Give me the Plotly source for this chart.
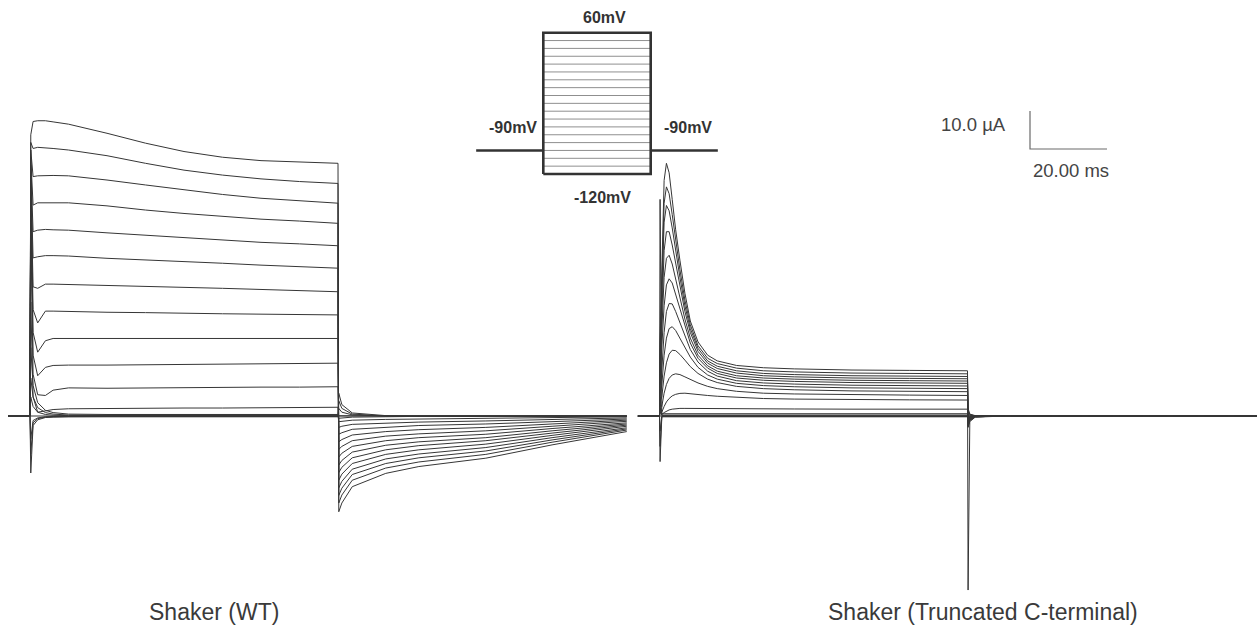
import plotly.graph_objects as go

# ---------------- data ----------------
# Voltage steps of the protocol (mV), sweep order: +60 ... -120
STEP_MV = [60, 50, 40, 30, 20, 10, 0, -10, -20, -30, -40, -50, -60, -70, -80, -90, -100, -110, -120]
HOLD_MV = -90
PROTO_T = [-50, 0, 80, 130]          # ms (schematic: pre-hold, step on, step off, post-hold)

# Shaker WT: time (ms from step onset) and current (uA) for each sweep
WT_T = [-5.7, 0, 0.2, 0.8, 2, 4, 6, 10, 20, 30, 40, 50, 60, 70, 80,
        80.2, 81, 83.7, 92.4, 101, 118.4, 135.6, 155]
WT_I = [
    [0, 0, 74, 77.5, 77.7, 77.7, 77.4, 76.8, 74.4, 71.8, 69.6, 68.1, 67.2, 66.8, 66.5, -25.2, -22.9, -18.6, -15.1, -13.3, -11.1, -7.6, -4.1],
    [0, 0, 72, 70.4, 70.7, 70.6, 70.4, 70.0, 68.5, 66.5, 64.7, 63.4, 62.4, 61.7, 61.2, -22.9, -20.8, -16.9, -13.7, -12.1, -10.1, -6.9, -3.7],
    [0, 0, 70, 63.0, 63.2, 63.3, 63.3, 63.2, 62.1, 60.8, 59.5, 58.3, 57.3, 56.6, 56.0, -20.9, -19.0, -15.4, -12.5, -11.0, -9.2, -6.3, -3.4],
    [0, 0, 68, 55.5, 56.1, 56.1, 56.1, 56.1, 55.3, 54.2, 53.3, 52.5, 51.8, 51.3, 50.7, -18.9, -17.2, -14.0, -11.3, -10.0, -8.3, -5.7, -3.1],
    [0, 0, 66, 48.5, 48.9, 49.1, 49.0, 48.9, 48.2, 47.6, 47.0, 46.3, 45.7, 45.3, 44.8, -16.9, -15.3, -12.5, -10.1, -8.9, -7.4, -5.1, -2.7],
    [0, 0, 64, 41.6, 41.9, 42.2, 42.2, 42.1, 41.5, 41.1, 40.6, 40.2, 39.7, 39.3, 38.9, -14.9, -13.5, -11.0, -8.9, -7.8, -6.5, -4.5, -2.4],
    [0, 0, 62, 34.0, 33.6, 34.7, 34.7, 34.6, 34.5, 34.2, 33.9, 33.6, 33.3, 33.0, 32.7, -12.9, -11.7, -9.5, -7.7, -6.8, -5.7, -3.9, -2.1],
    [0, 0, 60, 28.0, 24.5, 27.6, 27.6, 27.5, 27.3, 27.2, 27.0, 26.9, 26.8, 26.7, 26.6, -10.8, -9.8, -8.0, -6.5, -5.7, -4.8, -3.3, -1.8],
    [0, 0, 58, 22.0, 16.8, 19.8, 20.4, 20.4, 20.4, 20.4, 20.4, 20.4, 20.4, 20.4, 20.4, -8.8, -8.0, -6.5, -5.3, -4.7, -3.9, -2.7, -1.4],
    [0, 0, 56, 16.0, 10.6, 12.8, 13.3, 13.4, 13.4, 13.5, 13.6, 13.7, 13.8, 13.8, 13.9, -6.8, -6.2, -5.0, -4.1, -3.6, -3.0, -2.1, -1.1],
    [0, 0, 50, 11.0, 5.6, 5.4, 6.8, 7.4, 7.3, 7.4, 7.5, 7.5, 7.6, 7.6, 7.7, -4.8, -4.4, -3.5, -2.9, -2.5, -2.1, -1.4, -0.8],
    [0, 0, 30, 5.0, 1.0, 1.4, 1.7, 1.9, 2.0, 2.0, 2.1, 2.1, 2.2, 2.2, 2.3, -3.0, -2.7, -2.2, -1.8, -1.6, -1.3, -0.9, -0.5],
    [0, 0, 18, 8.0, 3.5, 1.5, 0.9, 0.5, 0.4, 0.4, 0.4, 0.4, 0.4, 0.4, 0.4, -1.5, -1.4, -1.1, -0.9, -0.8, -0.7, -0.5, -0.2],
    [0, 0, 10, 5.0, 2.2, 0.9, 0.5, 0.25, 0.2, 0.2, 0.2, 0.2, 0.2, 0.2, 0.2, -0.6, -0.5, -0.3, -0.2, -0.1, -0.1, 0, 0],
    [0, 0, 5, 2.5, 1.0, 0.4, 0.2, 0.1, 0.1, 0.1, 0.1, 0.1, 0.1, 0.1, 0.1, 0, 0, 0, 0, 0, 0, 0, 0],
    [0, 0, 0, 0, 0, 0, 0, 0, 0, 0, 0, 0, 0, 0, 0, 0, 0, 0, 0, 0, 0, 0, 0],
    [0, 0, -6, -1.2, -0.5, -0.2, -0.15, -0.1, -0.1, -0.1, -0.1, -0.1, -0.1, -0.1, -0.1, 2.0, 1.0, 0.3, 0, 0, 0, 0, 0],
    [0, 0, -10, -1.8, -0.7, -0.3, -0.2, -0.15, -0.15, -0.15, -0.15, -0.15, -0.15, -0.15, -0.15, 4.0, 2.0, 0.5, 0, 0, 0, 0, 0],
    [0, 0, -15, -2.5, -1.0, -0.4, -0.3, -0.2, -0.2, -0.2, -0.2, -0.2, -0.2, -0.2, -0.2, 6.0, 3.0, 0.8, 0.1, 0, 0, 0, 0],
]

# Shaker (Truncated C-terminal)
TR_T = [-5.6, 0, 0.15, 0.6, 1.2, 1.8, 2.5, 3.3, 4.2, 5.3, 6.6, 8, 10, 12.5, 15, 20, 27, 35, 50, 65, 80,
        80.15, 80.6, 82, 90, 155.3]
TR_I = [
    [0, 0, 20, 40, 62, 66.5, 64, 57, 49, 41, 32.3, 25, 19.5, 16, 14.5, 13.3, 12.7, 12.4, 12.1, 12.0, 11.9, -45.8, -1.5, -0.3, 0, 0],
    [0, 0, 18, 36, 56, 60.3, 58.5, 53, 46, 38.5, 30.5, 24, 18.5, 15.2, 13.8, 12.6, 11.9, 11.6, 11.3, 11.2, 11.1, -3.0, -1.2, -0.2, 0, 0],
    [0, 0, 16, 32, 51, 55.4, 54, 49.5, 43.5, 36.5, 29, 23, 17.8, 14.5, 13.1, 11.9, 11.2, 10.9, 10.6, 10.5, 10.4, -2.8, -1.1, -0.2, 0, 0],
    [0, 0, 14, 27, 43.5, 48.5, 48.5, 45, 40, 34, 27.5, 22, 17, 13.9, 12.5, 11.3, 10.6, 10.3, 10.0, 9.9, 9.8, -2.6, -1.0, -0.2, 0, 0],
    [0, 0, 12, 22, 36.5, 41.5, 42.3, 40, 36, 31, 25.5, 20.5, 16, 13.2, 11.8, 10.6, 10.0, 9.7, 9.4, 9.3, 9.2, -2.4, -0.9, -0.2, 0, 0],
    [0, 0, 10, 17, 29, 34.5, 36.1, 35, 32, 28, 23.5, 19.2, 15.2, 12.6, 11.2, 10.0, 9.4, 9.1, 8.8, 8.7, 8.6, -2.2, -0.8, -0.1, 0, 0],
    [0, 0, 8, 12, 22, 27.5, 29.6, 29.5, 27.5, 24.5, 21, 17.5, 14.2, 11.8, 10.5, 9.3, 8.7, 8.4, 8.1, 8.0, 7.9, -2.0, -0.7, -0.1, 0, 0],
    [0, 0, 6, 8, 16, 20.5, 23, 23.5, 22.5, 20.5, 18, 15.5, 12.8, 10.8, 9.7, 8.6, 8.0, 7.7, 7.4, 7.3, 7.2, -1.8, -0.6, -0.1, 0, 0],
    [0, 0, 4, 5, 10.5, 14, 16.3, 17.3, 17.2, 16.2, 14.7, 13, 11.2, 9.7, 8.8, 7.8, 7.2, 6.9, 6.6, 6.5, 6.4, -1.6, -0.5, -0.1, 0, 0],
    [0, 0, 3, 2.5, 6, 8.3, 9.9, 10.8, 11.1, 10.9, 10.3, 9.6, 8.7, 7.8, 7.2, 6.5, 6.0, 5.8, 5.6, 5.5, 5.4, -1.4, -0.4, 0, 0, 0],
    [0, 0, 2, 1, 2.5, 3.7, 4.6, 5.3, 5.7, 5.95, 6.0, 5.9, 5.7, 5.4, 5.2, 4.9, 4.6, 4.45, 4.3, 4.25, 4.2, -1.2, -0.3, 0, 0, 0],
    [0, 0, 1, 0.4, 0.9, 1.3, 1.6, 1.8, 1.95, 2.0, 2.0, 2.0, 2.0, 1.95, 1.9, 1.9, 1.85, 1.85, 1.8, 1.8, 1.8, -1.0, -0.2, 0, 0, 0],
    [0, 0, 57, 0.6, 0.6, 0.6, 0.6, 0.6, 0.6, 0.6, 0.6, 0.6, 0.6, 0.6, 0.6, 0.6, 0.6, 0.6, 0.6, 0.6, 0.6, -0.6, -0.1, 0, 0, 0],
    [0, 0, 5, 0.25, 0.25, 0.25, 0.25, 0.25, 0.25, 0.25, 0.25, 0.25, 0.25, 0.25, 0.25, 0.25, 0.25, 0.25, 0.25, 0.25, 0.25, -0.3, 0, 0, 0, 0],
    [0, 0, 2, 0.1, 0.1, 0.1, 0.1, 0.1, 0.1, 0.1, 0.1, 0.1, 0.1, 0.1, 0.1, 0.1, 0.1, 0.1, 0.1, 0.1, 0.1, 0, 0, 0, 0, 0],
    [0, 0, 0, 0, 0, 0, 0, 0, 0, 0, 0, 0, 0, 0, 0, 0, 0, 0, 0, 0, 0, 0, 0, 0, 0, 0],
    [0, 0, -4, -0.1, -0.1, -0.1, -0.1, -0.1, -0.1, -0.1, -0.1, -0.1, -0.1, -0.1, -0.1, -0.1, -0.1, -0.1, -0.1, -0.1, -0.1, 1.0, 0.3, 0, 0, 0],
    [0, 0, -8, -0.15, -0.15, -0.15, -0.15, -0.15, -0.15, -0.15, -0.15, -0.15, -0.15, -0.15, -0.15, -0.15, -0.15, -0.15, -0.15, -0.15, -0.15, 1.5, 0.4, 0, 0, 0],
    [0, 0, -12, -0.2, -0.2, -0.2, -0.2, -0.2, -0.2, -0.2, -0.2, -0.2, -0.2, -0.2, -0.2, -0.2, -0.2, -0.2, -0.2, -0.2, -0.2, 2.0, 0.5, 0.1, 0, 0],
]

SCALE_I_UA = 10.0
SCALE_T_MS = 20.0
LABELS = ["Shaker (WT)", "Shaker (Truncated C-terminal)"]

# ---------------- layout constants ----------------
W, H = 1257, 635
PX_PER_MS = 3.85
PX_PER_UA = 3.8
BASE_PY = 416
WT_ONSET = 30 / PX_PER_MS
TR_ONSET = 659.5 / PX_PER_MS
TRACE_COLOR = "#363636"

INSET_PX_PER_MS = 1.3425
INSET_X0_PX = 543.3
INSET_PX_PER_MV = 0.785
INSET_TOP_PY = 32.7

fig = go.Figure()

for sweep in WT_I:
    fig.add_trace(go.Scatter(x=[t + WT_ONSET for t in WT_T], y=sweep, mode="lines",
                             line=dict(color=TRACE_COLOR, width=1), hoverinfo="skip"))
for sweep in TR_I:
    fig.add_trace(go.Scatter(x=[t + TR_ONSET for t in TR_T], y=sweep, mode="lines",
                             line=dict(color=TRACE_COLOR, width=1), hoverinfo="skip"))

# scale bar
sb_x = 1030 / PX_PER_MS
sb_y = (BASE_PY - 149) / PX_PER_UA
fig.add_trace(go.Scatter(x=[sb_x, sb_x, sb_x + SCALE_T_MS], y=[sb_y + SCALE_I_UA, sb_y, sb_y],
                         mode="lines", line=dict(color="#6a6a6a", width=1.2), hoverinfo="skip"))

# protocol inset
for v in STEP_MV[1:-1]:
    fig.add_trace(go.Scatter(x=[PROTO_T[1], PROTO_T[2]], y=[v, v], mode="lines",
                             line=dict(color="#8f8f8f", width=1), xaxis="x2", yaxis="y2", hoverinfo="skip"))
fig.add_trace(go.Scatter(x=[PROTO_T[1], PROTO_T[1], PROTO_T[2], PROTO_T[2], PROTO_T[1]],
                         y=[STEP_MV[-1], STEP_MV[0], STEP_MV[0], STEP_MV[-1], STEP_MV[-1]],
                         mode="lines", line=dict(color="#333333", width=2.6), xaxis="x2", yaxis="y2", hoverinfo="skip"))
fig.add_trace(go.Scatter(x=[PROTO_T[0], PROTO_T[1]], y=[HOLD_MV, HOLD_MV], mode="lines",
                         line=dict(color="#333333", width=2.6), xaxis="x2", yaxis="y2", hoverinfo="skip"))
fig.add_trace(go.Scatter(x=[PROTO_T[2], PROTO_T[3]], y=[HOLD_MV, HOLD_MV], mode="lines",
                         line=dict(color="#333333", width=2.6), xaxis="x2", yaxis="y2", hoverinfo="skip"))

FONT = "Liberation Sans, Arial, sans-serif"

def ann(text, px, py, size, bold=False, xanchor="center", color="#333333"):
    fig.add_annotation(x=px / W, y=1 - py / H, xref="paper", yref="paper",
                       text=f"<b>{text}</b>" if bold else text, showarrow=False,
                       xanchor=xanchor, yanchor="middle",
                       font=dict(family=FONT, size=size, color=color))

ann(f"{STEP_MV[0]}mV", 604.8, 17.2, 16, bold=True)
ann(f"{STEP_MV[-1]}mV", 602.5, 197, 16, bold=True)
ann(f"{HOLD_MV}mV", 512.7, 127.3, 16, bold=True)
ann(f"{HOLD_MV}mV", 687.8, 127.3, 16, bold=True)
ann(f"{SCALE_I_UA:.1f} µA", 1008.5, 124.5, 18.5, xanchor="right", color="#444444")
ann(f"{SCALE_T_MS:.2f} ms", 1030.5, 170.5, 18.5, xanchor="left", color="#444444")
ann(LABELS[0], 214, 612, 23, color="#3a3a3a")
ann(LABELS[1], 983, 612, 23, color="#3a3a3a")

hidden = dict(visible=False, showgrid=False, zeroline=False, fixedrange=True)
fig.update_layout(
    width=W, height=H, autosize=False,
    margin=dict(l=0, r=0, t=0, b=0),
    paper_bgcolor="white", plot_bgcolor="white",
    showlegend=False,
    xaxis=dict(range=[0, W / PX_PER_MS], domain=[0, 1], **hidden),
    yaxis=dict(range=[-(H - BASE_PY) / PX_PER_UA, BASE_PY / PX_PER_UA], domain=[0, 1], **hidden),
    xaxis2=dict(range=[-INSET_X0_PX / INSET_PX_PER_MS, (W - INSET_X0_PX) / INSET_PX_PER_MS],
                overlaying="x", anchor="y2", **hidden),
    yaxis2=dict(range=[STEP_MV[0] - (H - INSET_TOP_PY) / INSET_PX_PER_MV,
                       STEP_MV[0] + INSET_TOP_PY / INSET_PX_PER_MV],
                overlaying="y", anchor="x2", **hidden),
)

fig.write_html("out.html")
